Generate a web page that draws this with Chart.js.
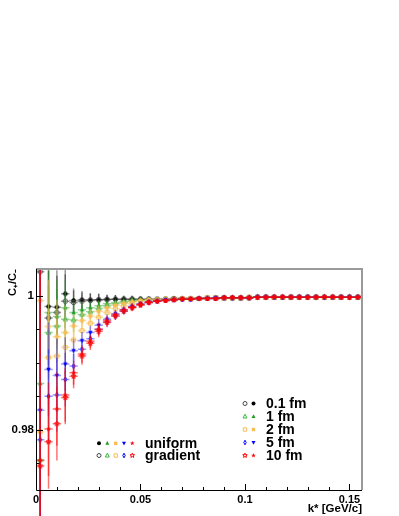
<!DOCTYPE html>
<html><head><meta charset="utf-8">
<script src="https://cdn.jsdelivr.net/npm/chart.js@4.4.0/dist/chart.umd.min.js"></script>
<style>html,body{margin:0;padding:0;background:#fff;}#wrap{width:399px;height:516px;}</style>
</head><body><div id="wrap"><canvas id="c" width="399" height="516"></canvas></div>
<script>
// ---- data ----
const kStar = [0.002,0.006,0.010,0.014,0.018,0.022,0.026,0.030,0.034,0.038,0.042,0.046,0.050,
  0.054,0.058,0.062,0.066,0.070,0.074,0.078,0.082,0.086,0.090,0.094,0.098,
  0.102,0.106,0.110,0.114,0.118,0.122,0.126,0.130,0.134,0.138,0.142,0.146,0.150,0.154];
const binHalfWidth = 0.002;
const statErr = [0.035,0.007,0.0055,0.004,0.0018,0.0013,0.0010,0.0009,0.0007,0.0006,0.0005,0.0005,0.0004,
  0.0004,0.0003,0.0003,0.0003,0.0003,0.0002,0.0002,0.0002,0.0002,0.0002,0.0002,0.0002,0.0002,
  0.0001,0.0001,0.0001,0.0001,0.0001,0.0001,0.0001,0.0001,0.0001,0.0001,0.0001,0.0001,0.0001];

const uniform01 = [1.0050,0.9984,0.9983,1.0003,0.9993,0.9994,0.9994,0.9994,0.9995,0.9995,0.9995,0.9995,0.9995,
  0.9995,0.9995,0.9995,0.9996,0.9996,0.9996,0.9996,0.9997,0.9997,0.9997,0.9997,0.9997,0.9997,
  0.9998,0.9998,0.9998,0.9998,0.9998,0.9998,0.9998,0.9998,0.9998,0.9998,0.9998,0.9998,0.9998];
const gradient01 = [1.0036,0.9967,0.9975,0.9992,0.9990,0.9992,0.9993,0.9994,0.9994,0.9995,0.9995,0.9995,0.9995,
  0.9995,0.9995,0.9995,0.9996,0.9996,0.9996,0.9996,0.9997,0.9997,0.9997,0.9997,0.9997,0.9997,
  0.9998,0.9998,0.9998,0.9998,0.9998,0.9998,0.9998,0.9998,0.9998,0.9998,0.9998,0.9998,0.9998];
const uniform1 = [0.9869,0.9975,0.9969,0.9982,0.9975,0.9979,0.9982,0.9985,0.9988,0.9990,0.9992,0.9993,0.9994,
  0.9994,0.9994,0.9995,0.9995,0.9996,0.9996,0.9996,0.9997,0.9997,0.9997,0.9997,0.9997,0.9998,
  0.9998,0.9998,0.9998,0.9998,0.9998,0.9998,0.9998,0.9998,0.9998,0.9998,0.9998,0.9998,0.9998];
const gradient1 = [0.9755,0.9945,0.9955,0.9965,0.9964,0.9972,0.9976,0.9981,0.9985,0.9988,0.9990,0.9992,0.9993,
  0.9994,0.9994,0.9995,0.9995,0.9996,0.9996,0.9996,0.9997,0.9997,0.9997,0.9997,0.9997,0.9998,
  0.9998,0.9998,0.9998,0.9998,0.9998,0.9998,0.9998,0.9998,0.9998,0.9998,0.9998,0.9998,0.9998];
const uniform2 = [0.9993,0.9954,0.9939,0.9945,0.9955,0.9963,0.9970,0.9977,0.9982,0.9986,0.9989,0.9991,0.9993,
  0.9994,0.9994,0.9995,0.9995,0.9996,0.9996,0.9996,0.9997,0.9997,0.9997,0.9997,0.9997,0.9998,
  0.9998,0.9998,0.9998,0.9998,0.9998,0.9998,0.9998,0.9998,0.9998,0.9998,0.9998,0.9998,0.9998];
const gradient2 = [0.9797,0.9908,0.9910,0.9923,0.9934,0.9948,0.9959,0.9968,0.9975,0.9981,0.9985,0.9988,0.9991,
  0.9993,0.9994,0.9995,0.9995,0.9996,0.9996,0.9996,0.9997,0.9997,0.9997,0.9997,0.9997,0.9998,
  0.9998,0.9998,0.9998,0.9998,0.9998,0.9998,0.9998,0.9998,0.9998,0.9998,0.9998,0.9998,0.9998];
const uniform5 = [0.9829,0.9890,0.9881,0.9898,0.9918,0.9933,0.9945,0.9956,0.9965,0.9973,0.9979,0.9984,0.9988,
  0.9991,0.9992,0.9994,0.9994,0.9995,0.9995,0.9996,0.9996,0.9997,0.9997,0.9997,0.9997,0.9997,
  0.9998,0.9998,0.9998,0.9998,0.9998,0.9998,0.9998,0.9998,0.9998,0.9998,0.9998,0.9998,0.9998];
const gradient5 = [0.9785,0.9850,0.9852,0.9875,0.9895,0.9920,0.9936,0.9950,0.9961,0.9970,0.9977,0.9983,0.9987,
  0.9990,0.9992,0.9993,0.9994,0.9995,0.9995,0.9996,0.9996,0.9996,0.9997,0.9997,0.9997,0.9997,
  0.9998,0.9998,0.9998,0.9998,0.9998,0.9998,0.9998,0.9998,0.9998,0.9998,0.9998,0.9998,0.9998];
const uniform10 = [0.9754,0.9801,0.9831,0.9852,0.9885,0.9913,0.9932,0.9950,0.9963,0.9972,0.9979,0.9983,0.9987,
  0.9990,0.9992,0.9993,0.9994,0.9995,0.9995,0.9996,0.9996,0.9996,0.9997,0.9997,0.9997,0.9997,
  0.9998,0.9998,0.9998,0.9998,0.9998,0.9998,0.9998,0.9998,0.9998,0.9998,0.9998,0.9998,0.9998];
const gradient10 = [0.9746,0.9782,0.9809,0.9848,0.9880,0.9910,0.9929,0.9947,0.9960,0.9970,0.9977,0.9982,0.9986,
  0.9990,0.9992,0.9993,0.9994,0.9995,0.9995,0.9996,0.9996,0.9996,0.9997,0.9997,0.9997,0.9997,
  0.9998,0.9998,0.9998,0.9998,0.9998,0.9998,0.9998,0.9998,0.9998,0.9998,0.9998,0.9998,0.9998];

const xTicks = [0,0.01,0.02,0.03,0.04,0.05,0.06,0.07,0.08,0.09,0.10,0.11,0.12,0.13,0.14,0.15];
const xLabeled = [0,0.05,0.1,0.15];
const yTicks = [0.975,0.98,0.985,0.99,0.995,1.0];
const yLabeled = [0.98,1.0];
const radiusLabels = ['0.1 fm','1 fm','2 fm','5 fm','10 fm'];
const profileLabels = ['uniform','gradient'];
const xTitle = 'k* [GeV/c]';
const yTitle = 'C\u208A/C\u208B';

// ---- styles ----
const FONT = '"Liberation Sans", Arial, Helvetica, sans-serif';
const radiusStyles = [
  {u:{shape:'circle',color:'#000000'}, g:{shape:'circle',color:'#444444'}, err:'rgba(0,0,0,0.4)'},
  {u:{shape:'triUp',color:'#1f9e1f'}, g:{shape:'triUp',color:'#3cb83c'}, err:'rgba(30,160,30,0.45)'},
  {u:{shape:'square',color:'#f7bd55'}, g:{shape:'square',color:'#f7bd55'}, err:'rgba(247,190,90,0.55)'},
  {u:{shape:'triDown',color:'#0000ff'}, g:{shape:'diamond',color:'#0000ff'}, err:'rgba(0,0,255,0.4)'},
  {u:{shape:'star',color:'#ff0000'}, g:{shape:'star',color:'#ff0000'}, err:'rgba(255,0,0,0.55)'}
];
const seriesValues = [[uniform01,gradient01],[uniform1,gradient1],[uniform2,gradient2],[uniform5,gradient5],[uniform10,gradient10]];

function drawMarker(ctx, shape, filled, color, cx, cy, r) {
  ctx.save();
  ctx.beginPath();
  if (shape === 'circle') ctx.arc(cx, cy, r, 0, Math.PI * 2);
  else if (shape === 'triUp') { ctx.moveTo(cx, cy - r * 1.15); ctx.lineTo(cx + r, cy + r * 0.75); ctx.lineTo(cx - r, cy + r * 0.75); ctx.closePath(); }
  else if (shape === 'triDown') { ctx.moveTo(cx, cy + r * 1.15); ctx.lineTo(cx + r, cy - r * 0.75); ctx.lineTo(cx - r, cy - r * 0.75); ctx.closePath(); }
  else if (shape === 'square') ctx.rect(cx - r * 0.85, cy - r * 0.85, r * 1.7, r * 1.7);
  else if (shape === 'diamond') { ctx.moveTo(cx, cy - r * 1.15); ctx.lineTo(cx + r * 0.6, cy); ctx.lineTo(cx, cy + r * 1.15); ctx.lineTo(cx - r * 0.6, cy); ctx.closePath(); }
  else if (shape === 'star') {
    for (let j = 0; j < 10; j++) {
      const a = -Math.PI / 2 + j * Math.PI / 5;
      const rr = (j % 2 === 0) ? r * 1.2 : r * 0.5;
      const px = cx + rr * Math.cos(a), py = cy + rr * Math.sin(a);
      if (j === 0) ctx.moveTo(px, py); else ctx.lineTo(px, py);
    }
    ctx.closePath();
  }
  if (filled) { ctx.fillStyle = color; ctx.fill(); }
  else { ctx.strokeStyle = color; ctx.lineWidth = 1; ctx.stroke(); }
  ctx.restore();
}
function sprite(shape, filled, color, r) {
  const s = 9;
  const cv = document.createElement('canvas');
  cv.width = s; cv.height = s;
  drawMarker(cv.getContext('2d'), shape, filled, color, s / 2, s / 2, r);
  return cv;
}

const datasets = [];
seriesValues.forEach((pair, ri) => {
  const st = radiusStyles[ri];
  [['u', true], ['g', false]].forEach(([key, filled], pi) => {
    const vals = pair[pi];
    datasets.push({
      label: profileLabels[pi] + ' ' + radiusLabels[ri],
      data: kStar.map((k, i) => ({x: k, y: vals[i]})),
      errValues: statErr,
      errColor: st.err,
      pointStyle: sprite(st[key].shape, filled, st[key].color, 2.2),
      pointRadius: 2.5,
      showLine: false,
      clip: 0,
      order: 20 - (ri * 2 + pi)
    });
  });
});

const errorBars = {
  id: 'errorBars',
  beforeDatasetDraw(chart, args) {
    const ds = chart.data.datasets[args.index];
    const xs = chart.scales.x, ys = chart.scales.y, ca = chart.chartArea, ctx = chart.ctx;
    ctx.save();
    ctx.beginPath();
    ctx.rect(ca.left, ca.top, ca.right - ca.left, chart.height - ca.top);
    ctx.clip();
    ctx.strokeStyle = ds.errColor;
    ctx.lineWidth = 1.5;
    ds.data.forEach((p, i) => {
      const e = ds.errValues[i];
      const px = xs.getPixelForValue(p.x), py = ys.getPixelForValue(p.y);
      ctx.beginPath();
      ctx.moveTo(px, ys.getPixelForValue(p.y + e));
      ctx.lineTo(px, ys.getPixelForValue(p.y - e));
      ctx.moveTo(xs.getPixelForValue(p.x - binHalfWidth), py);
      ctx.lineTo(xs.getPixelForValue(p.x + binHalfWidth), py);
      ctx.stroke();
    });
    ctx.restore();
  }
};

const frameAndLegends = {
  id: 'frameAndLegends',
  afterDraw(chart) {
    const ctx = chart.ctx, ca = chart.chartArea, xs = chart.scales.x, ys = chart.scales.y;
    ctx.save();
    ctx.strokeStyle = '#9a9a9a'; ctx.lineWidth = 2;
    ctx.beginPath(); ctx.moveTo(ca.left, ca.top); ctx.lineTo(ca.right, ca.top); ctx.lineTo(ca.right, ca.bottom); ctx.stroke();
    ctx.strokeStyle = '#000'; ctx.lineWidth = 1;
    ctx.beginPath(); ctx.moveTo(ca.left + 0.5, ca.top); ctx.lineTo(ca.left + 0.5, ca.bottom + 0.5); ctx.lineTo(ca.right, ca.bottom + 0.5); ctx.stroke();
    ctx.beginPath();
    yTicks.forEach(v => {
      const y = Math.round(ys.getPixelForValue(v)) + 0.5;
      const len = yLabeled.includes(v) ? 7 : 3.5;
      ctx.moveTo(ca.left, y); ctx.lineTo(ca.left + len, y);
    });
    xTicks.forEach(v => {
      const x = Math.round(xs.getPixelForValue(v)) + 0.5;
      const len = xLabeled.some(t => Math.abs(t - v) < 1e-9) ? 6 : 3;
      ctx.moveTo(x, ca.bottom); ctx.lineTo(x, ca.bottom - len);
    });
    ctx.stroke();
    ctx.fillStyle = '#000';
    ctx.font = 'bold 14px ' + FONT;
    ctx.textBaseline = 'middle'; ctx.textAlign = 'left';
    const rowY = [403.5, 416.5, 429.5, 442.5, 455.5];
    radiusLabels.forEach((lab, ri) => {
      const st = radiusStyles[ri];
      drawMarker(ctx, st.g.shape, false, st.g.color, 245, rowY[ri], 2);
      drawMarker(ctx, st.u.shape, true, st.u.color, 253.5, rowY[ri], 2);
      ctx.fillText(lab, 266, rowY[ri] + 0.5);
    });
    const colX = [99, 107.3, 115.7, 124, 132.3];
    const profY = [443.3, 455.5];
    profileLabels.forEach((lab, pi) => {
      radiusStyles.forEach((st, ri) => {
        const m = pi === 0 ? st.u : st.g;
        drawMarker(ctx, m.shape, pi === 0, m.color, colX[ri], profY[pi], 2);
      });
      ctx.fillText(lab, 145, profY[pi] + 0.5);
    });
    ctx.restore();
  }
};

new Chart(document.getElementById('c'), {
  type: 'scatter',
  data: { datasets },
  options: {
    responsive: false,
    animation: false,
    devicePixelRatio: 1,
    layout: { padding: { top: 269, right: 37, left: 0, bottom: 0 } },
    plugins: { legend: { display: false }, tooltip: { enabled: false } },
    scales: {
      x: {
        type: 'linear', min: 0, max: 0.156, position: 'bottom',
        afterBuildTicks: s => { s.ticks = xTicks.map(v => ({ value: v })); },
        afterFit: s => { s.height = 26; },
        grid: { display: false, drawTicks: false },
        border: { display: false },
        ticks: {
          autoSkip: false, maxRotation: 0, padding: 3, color: '#000',
          font: { family: FONT, size: 11, weight: 'bold' },
          callback: v => xLabeled.some(t => Math.abs(t - v) < 1e-9) ? String(+v.toFixed(3)) : ''
        },
        title: { display: true, text: xTitle, align: 'end', color: '#000', padding: { top: 0, bottom: 0 },
          font: { family: FONT, size: 11.5, weight: 'bold' } }
      },
      y: {
        type: 'linear', min: 0.971, max: 1.004,
        afterBuildTicks: s => { s.ticks = yTicks.map(v => ({ value: v })); },
        afterFit: s => { s.width = 36; },
        grid: { display: false, drawTicks: false },
        border: { display: false },
        ticks: {
          autoSkip: false, padding: 2, color: '#000',
          font: { family: FONT, size: 11.5, weight: 'bold' },
          callback: v => yLabeled.some(t => Math.abs(t - v) < 1e-9) ? String(+v.toFixed(3)) : ''
        },
        title: { display: true, text: yTitle, align: 'end', color: '#000', padding: { top: 6, bottom: 0 },
          font: { family: FONT, size: 11, weight: 'bold' } }
      }
    }
  },
  plugins: [errorBars, frameAndLegends]
});
</script>
</body></html>
